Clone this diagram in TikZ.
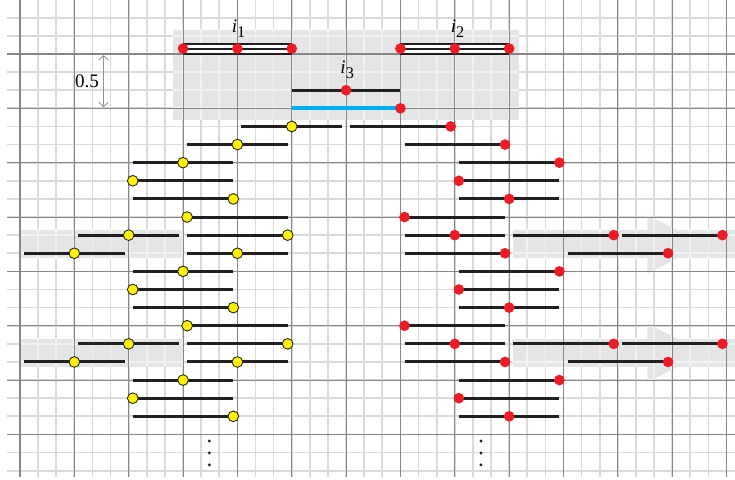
\documentclass[tikz,border=0pt]{standalone}
\usepackage{fontspec}
\setmainfont{Liberation Serif}
\usetikzlibrary{arrows.meta,calc}
\definecolor{ired}{HTML}{ED1C24}
\definecolor{iyel}{HTML}{FFF200}
\definecolor{iblue}{HTML}{00AEEF}
\definecolor{ibar}{HTML}{231F20}
\definecolor{shadec}{HTML}{E4E5E7}
\definecolor{gmin}{HTML}{D9D9D9}
\definecolor{gminlt}{HTML}{F2F2F2}
\definecolor{gmaj}{HTML}{878787}
\newcommand\minorlines[1]{%
  \foreach \k in {0,...,39} \draw[#1, line width=0.9pt] ({\k/3},1.05) -- ({\k/3},-7.78);
  \foreach \k in {-2,...,23} \draw[#1, line width=0.9pt] (-0.24,{-\k/3}) -- (13.25,{-\k/3});
}
\newcommand\oneshade[1]{%
  \fill[shadec] #1;
  \begin{scope}
    \clip #1;
    \minorlines{gminlt}
  \end{scope}
}
\newcommand\ilabel[1]{\textit{i}\raisebox{-2.9pt}{\fontsize{8.5}{8.5}\selectfont #1}}
\begin{document}
\begin{tikzpicture}[x=1cm,y=1cm,
  bar/.style={draw=ibar,line width=1.6pt},
  rdot/.style={circle,fill=ired,inner sep=0pt,minimum size=5.6pt},
  ydot/.style={circle,fill=iyel,draw=ibar,line width=0.45pt,inner sep=0pt,minimum size=5.6pt},
  majl/.style={draw=gmaj,line width=0.55pt},
  lab/.style={inner sep=0pt,font=\fontsize{10}{10}\selectfont}]
\useasboundingbox (-0.368,0.9936) rectangle (13.156,-7.838);
\fill[white] (-0.368,0.9936) rectangle (13.156,-7.838);
% grid
\minorlines{gmin}
\oneshade{(2.815,0.4416) rectangle (9.181,-1.214)}
\oneshade{(0,-3.238) rectangle (2.99,-3.759)}
\oneshade{(0,-5.238) rectangle (2.99,-5.759)}
\oneshade{(9.065,-3.238) rectangle (13.25,-3.759)}
\oneshade{(11.545,-2.96) -- (12.6,-3.5) -- (11.545,-4.04) -- cycle}
\oneshade{(9.065,-5.238) rectangle (13.25,-5.759)}
\oneshade{(11.545,-4.96) -- (12.6,-5.5) -- (11.545,-6.04) -- cycle}
\foreach \k in {0,...,13} \draw[majl] (\k,1.05) -- (\k,-7.78);
\foreach \k in {0,...,7} \draw[majl] (-0.24,-\k) -- (13.25,-\k);
% dimension
\coordinate (dt) at (1.536,-0.02);
\coordinate (db) at (1.536,-0.98);
\draw[draw=gray!85,line width=0.45pt,{Straight Barb[length=2.3pt,width=5pt]}-{Straight Barb[length=2.3pt,width=5pt]}] (dt) -- (db);
\node[lab] (half) at (1.233,-0.506) {0.5};
% top intervals i1, i2
\foreach \n/\a in {1/3,2/7} {
  \coordinate (t\n a) at (\a,0.1);
  \coordinate (t\n b) at ({\a+2},0.1);
  \draw[ibar,line width=6.3pt] (t\n a) -- (t\n b);
  \draw[white,line width=4.2pt] (t\n a) -- (t\n b);
  \draw[ibar,line width=1.05pt] (t\n a) -- (t\n b);
  \node[rdot] (t\n l) at (t\n a) {};
  \node[rdot] (t\n m) at ($(t\n a)!.5!(t\n b)$) {};
  \node[rdot] (t\n r) at (t\n b) {};
}
% i3
\coordinate (i3a) at (5,-2/3);
\coordinate (i3b) at (7,-2/3);
\draw[bar] (i3a) -- (i3b);
\node[rdot] (i3m) at ($(i3a)!.5!(i3b)$) {};
\coordinate (bla) at (5,-1);
\coordinate (blb) at (7,-1);
\draw[iblue,line width=2.1pt] (bla) -- (blb);
\node[rdot] (blr) at (blb) {};
% labels
\node[lab] (l1) at (4.02,0.466) {\ilabel{1}};
\node[lab] (l2) at (8.05,0.466) {\ilabel{2}};
\node[lab] (l3) at (6.02,-0.294) {\ilabel{3}};
% interval rows
\def\dd{0.075}
\def\leftlist{4/4/.5, 5/3/.5, 6/2/.5, 7/2/0, 8/2/1, 9/3/0, 10/1/.5, 10/3/1, 11/0/.5, 11/3/.5, 12/2/.5, 13/2/0, 14/2/1, 15/3/0, 16/1/.5, 16/3/1, 17/0/.5, 17/3/.5, 18/2/.5, 19/2/0, 20/2/1}
\def\rightlist{4/6/1, 5/7/1, 6/8/1, 7/8/0, 8/8/.5, 9/7/0, 10/7/.5, 10/9/1, 10/11/1, 11/7/1, 11/10/1, 12/8/1, 13/8/0, 14/8/.5, 15/7/0, 16/7/.5, 16/9/1, 16/11/1, 17/7/1, 17/10/1, 18/8/1, 19/8/0, 20/8/.5}
\foreach \r/\a/\p in \leftlist {
  \coordinate (s\r-\a) at ({\a+\dd},{-\r/3});
  \coordinate (e\r-\a) at ({\a+2-\dd},{-\r/3});
  \draw[bar] (s\r-\a) -- (e\r-\a);
}
\foreach \r/\a/\p in \rightlist {
  \coordinate (s\r-\a) at ({\a+\dd},{-\r/3});
  \coordinate (e\r-\a) at ({\a+2-\dd},{-\r/3});
  \draw[bar] (s\r-\a) -- (e\r-\a);
}
\foreach \r/\a/\p in \leftlist {
  \node[ydot] (d\r-\a) at ($(s\r-\a)!\p!(e\r-\a)$) {};
}
\foreach \r/\a/\p in \rightlist {
  \node[rdot] (d\r-\a) at ($(s\r-\a)!\p!(e\r-\a)$) {};
}
% vertical ellipses
\foreach \x in {3.483,8.482} {
  \foreach \y in {-7.12,-7.34,-7.56} {
    \fill[ibar] (\x,\y) circle (0.85pt);
  }
}
\end{tikzpicture}
\end{document}
